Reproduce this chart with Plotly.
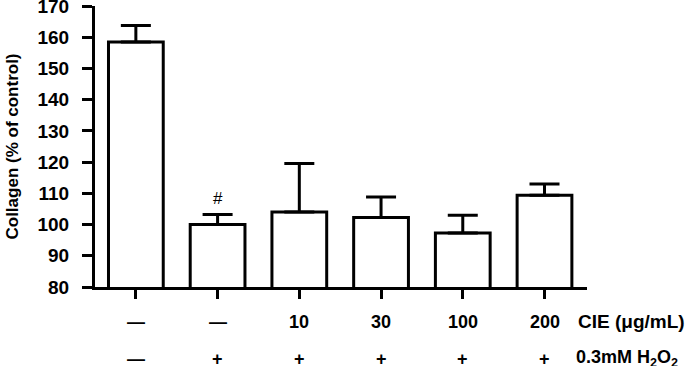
import plotly.graph_objects as go

categories = [0, 1, 2, 3, 4, 5]
collagen = [158.5, 100.0, 104.0, 102.3, 97.3, 109.4]
err_upper = [5.3, 3.2, 15.6, 6.5, 5.7, 3.6]
cie_labels = ["—", "—", "10", "30", "100", "200"]
h2o2_labels = ["—", "+", "+", "+", "+", "+"]
sig_marks = ["", "#", "", "", "", ""]
y_ticks = [80, 90, 100, 110, 120, 130, 140, 150, 160, 170]

FONT = "Liberation Sans, Arial, sans-serif"

fig = go.Figure()
fig.add_trace(go.Bar(
    x=categories, y=collagen, width=0.67,
    marker=dict(color="white", line=dict(color="black", width=3)),
    error_y=dict(type="data", symmetric=False, array=err_upper,
                 arrayminus=[0] * len(categories),
                 color="black", thickness=3, width=15),
))

annotations = []
for c, lab in zip(categories, cie_labels):
    annotations.append(dict(x=c, y=-0.123, xref="x", yref="paper", text=lab,
                            showarrow=False, xanchor="center", yanchor="middle",
                            font=dict(family=FONT, size=18, color="black", weight="bold")))
for c, lab in zip(categories, h2o2_labels):
    annotations.append(dict(x=c, y=-0.255, xref="x", yref="paper", text=lab,
                            showarrow=False, xanchor="center", yanchor="middle",
                            font=dict(family=FONT, size=18, color="black", weight="bold")))
annotations.append(dict(x=5.38, y=-0.123, xref="x", yref="paper", text="CIE (μg/mL)",
                        showarrow=False, xanchor="left", yanchor="middle",
                        font=dict(family=FONT, size=19, color="black", weight="bold")))
annotations.append(dict(x=5.36, y=-0.255, xref="x", yref="paper",
                        text="0.3mM H<sub>2</sub>O<sub>2</sub>",
                        showarrow=False, xanchor="left", yanchor="middle",
                        font=dict(family=FONT, size=18, color="black", weight="bold")))
for c, v, e, m in zip(categories, collagen, err_upper, sig_marks):
    if m:
        annotations.append(dict(x=c, y=v + e, xref="x", yref="y", text=m,
                                showarrow=False, xanchor="center", yanchor="bottom",
                                yshift=5,
                                font=dict(family=FONT, size=17, color="black")))

fig.update_layout(
    width=691, height=366,
    margin=dict(l=95, r=104, t=6, b=79, autoexpand=False),
    paper_bgcolor="white", plot_bgcolor="white",
    showlegend=False,
    annotations=annotations,
    xaxis=dict(range=[-0.5, 5.52], tickmode="array", tickvals=categories,
               ticktext=[""] * len(categories), automargin=False,
               showline=True, linecolor="black", linewidth=3,
               ticks="outside", ticklen=9, tickwidth=3, tickcolor="black",
               showgrid=False, zeroline=False),
    yaxis=dict(range=[80, 170.03], tickmode="array", tickvals=y_ticks,
               ticktext=[str(t) for t in y_ticks], automargin=False,
               showline=True, linecolor="black", linewidth=3,
               ticks="outside", ticklen=10, tickwidth=3, tickcolor="black",
               ticklabelstandoff=9, ticklabeloverflow="allow",
               showgrid=False, zeroline=False,
               tickfont=dict(family=FONT, size=19, color="black", weight="bold"),
               title=dict(text="Collagen (% of control)", standoff=15,
                          font=dict(family=FONT, size=17, color="black", weight="bold"))),
)

fig.write_html("out.html")
